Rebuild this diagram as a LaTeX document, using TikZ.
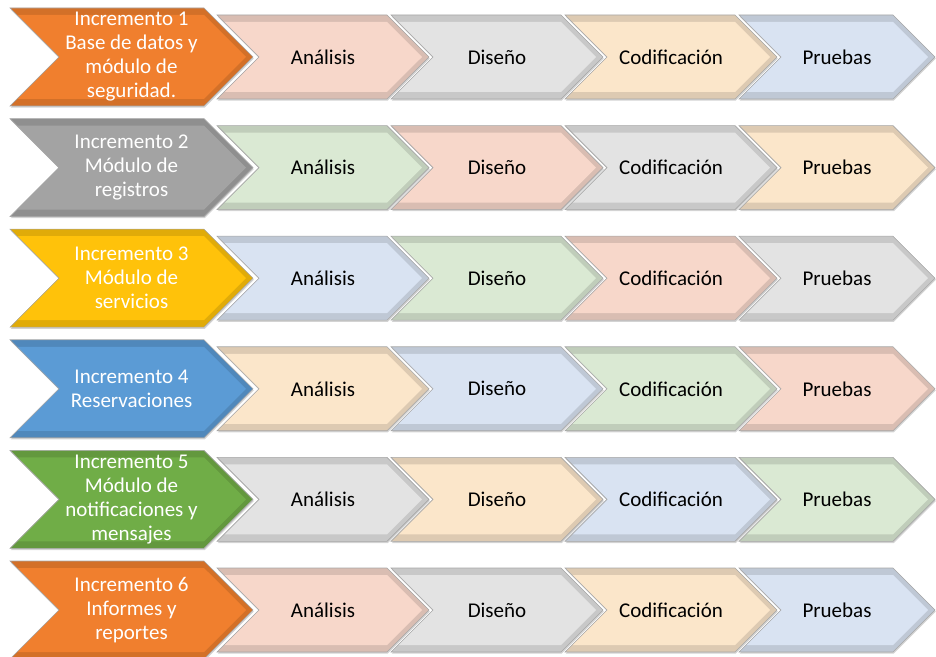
\documentclass[tikz,border=0pt]{standalone}
\usepackage{fontspec}
\setmainfont{Carlito}
\usetikzlibrary{shapes.symbols,shadows}

\definecolor{incOrange}{HTML}{F07F2E}
\definecolor{incGray}{HTML}{A3A3A3}
\definecolor{incGold}{HTML}{FFC20A}
\definecolor{incBlue}{HTML}{5B9BD5}
\definecolor{incGreen}{HTML}{70AD47}
\definecolor{phSalmon}{HTML}{F7D7CA}
\definecolor{phGray}{HTML}{E3E3E3}
\definecolor{phTan}{HTML}{FBE6CA}
\definecolor{phBlue}{HTML}{D9E3F2}
\definecolor{phGreen}{HTML}{DAE9D3}

\begin{document}
\begin{tikzpicture}[x=1pt, y=1pt,
    bevel/.style n args={3}{signal, signal from=west, signal to=east, signal pointer angle=90,
        minimum width=#2, minimum height=#3, inner sep=0pt,
        fill=#1!88!black, draw=gray!70, line width=0.6pt,
        drop shadow={opacity=0.35, shadow xshift=0.8pt, shadow yshift=-1.6pt},
        path picture={\node[signal, signal from=west, signal to=east, signal pointer angle=90,
            draw=none, minimum width=#2-14pt, minimum height=#3-14pt, inner sep=0pt, fill=#1]
            at (path picture bounding box.center) {};},
        font=\fontsize{21}{24}\selectfont},
    inc/.style={bevel={#1}{243pt}{98pt}, text=white, align=center},
    phase/.style={bevel={#1}{212pt}{84pt}, text=black},
    last/.style={bevel={#1}{196pt}{84pt}, text=black}
]
    \useasboundingbox (0,0) rectangle (936,656);

    % Incremento 1
    \node[inc=incOrange] (inc1) at (131.5,599) {Incremento 1\\Base de datos y\\módulo de\\seguridad.};
    \node[phase=phSalmon] (ana1) at (323,599) {Análisis};
    \node[phase=phGray] (dis1) at (497,599) {Diseño};
    \node[phase=phTan] (cod1) at (671,599) {Codificación};
    \node[last=phBlue] (pru1) at (837,599) {Pruebas};

    % Incremento 2
    \node[inc=incGray] (inc2) at (131.5,488.4) {Incremento 2\\Módulo de\\registros};
    \node[phase=phGreen] (ana2) at (323,488.4) {Análisis};
    \node[phase=phSalmon] (dis2) at (497,488.4) {Diseño};
    \node[phase=phGray] (cod2) at (671,488.4) {Codificación};
    \node[last=phTan] (pru2) at (837,488.4) {Pruebas};

    % Incremento 3
    \node[inc=incGold] (inc3) at (131.5,377.8) {Incremento 3\\Módulo de\\servicios};
    \node[phase=phBlue] (ana3) at (323,377.8) {Análisis};
    \node[phase=phGreen] (dis3) at (497,377.8) {Diseño};
    \node[phase=phSalmon] (cod3) at (671,377.8) {Codificación};
    \node[last=phGray] (pru3) at (837,377.8) {Pruebas};

    % Incremento 4
    \node[inc=incBlue] (inc4) at (131.5,267.2) {Incremento 4\\Reservaciones};
    \node[phase=phTan] (ana4) at (323,267.2) {Análisis};
    \node[phase=phBlue] (dis4) at (497,267.2) {Diseño};
    \node[phase=phGreen] (cod4) at (671,267.2) {Codificación};
    \node[last=phSalmon] (pru4) at (837,267.2) {Pruebas};

    % Incremento 5
    \node[inc=incGreen] (inc5) at (131.5,156.6) {Incremento 5\\Módulo de\\notificaciones y\\mensajes};
    \node[phase=phGray] (ana5) at (323,156.6) {Análisis};
    \node[phase=phTan] (dis5) at (497,156.6) {Diseño};
    \node[phase=phBlue] (cod5) at (671,156.6) {Codificación};
    \node[last=phGreen] (pru5) at (837,156.6) {Pruebas};

    % Incremento 6
    \node[inc=incOrange] (inc6) at (131.5,46) {Incremento 6\\Informes y\\reportes};
    \node[phase=phSalmon] (ana6) at (323,46) {Análisis};
    \node[phase=phGray] (dis6) at (497,46) {Diseño};
    \node[phase=phTan] (cod6) at (671,46) {Codificación};
    \node[last=phBlue] (pru6) at (837,46) {Pruebas};
\end{tikzpicture}
\end{document}
